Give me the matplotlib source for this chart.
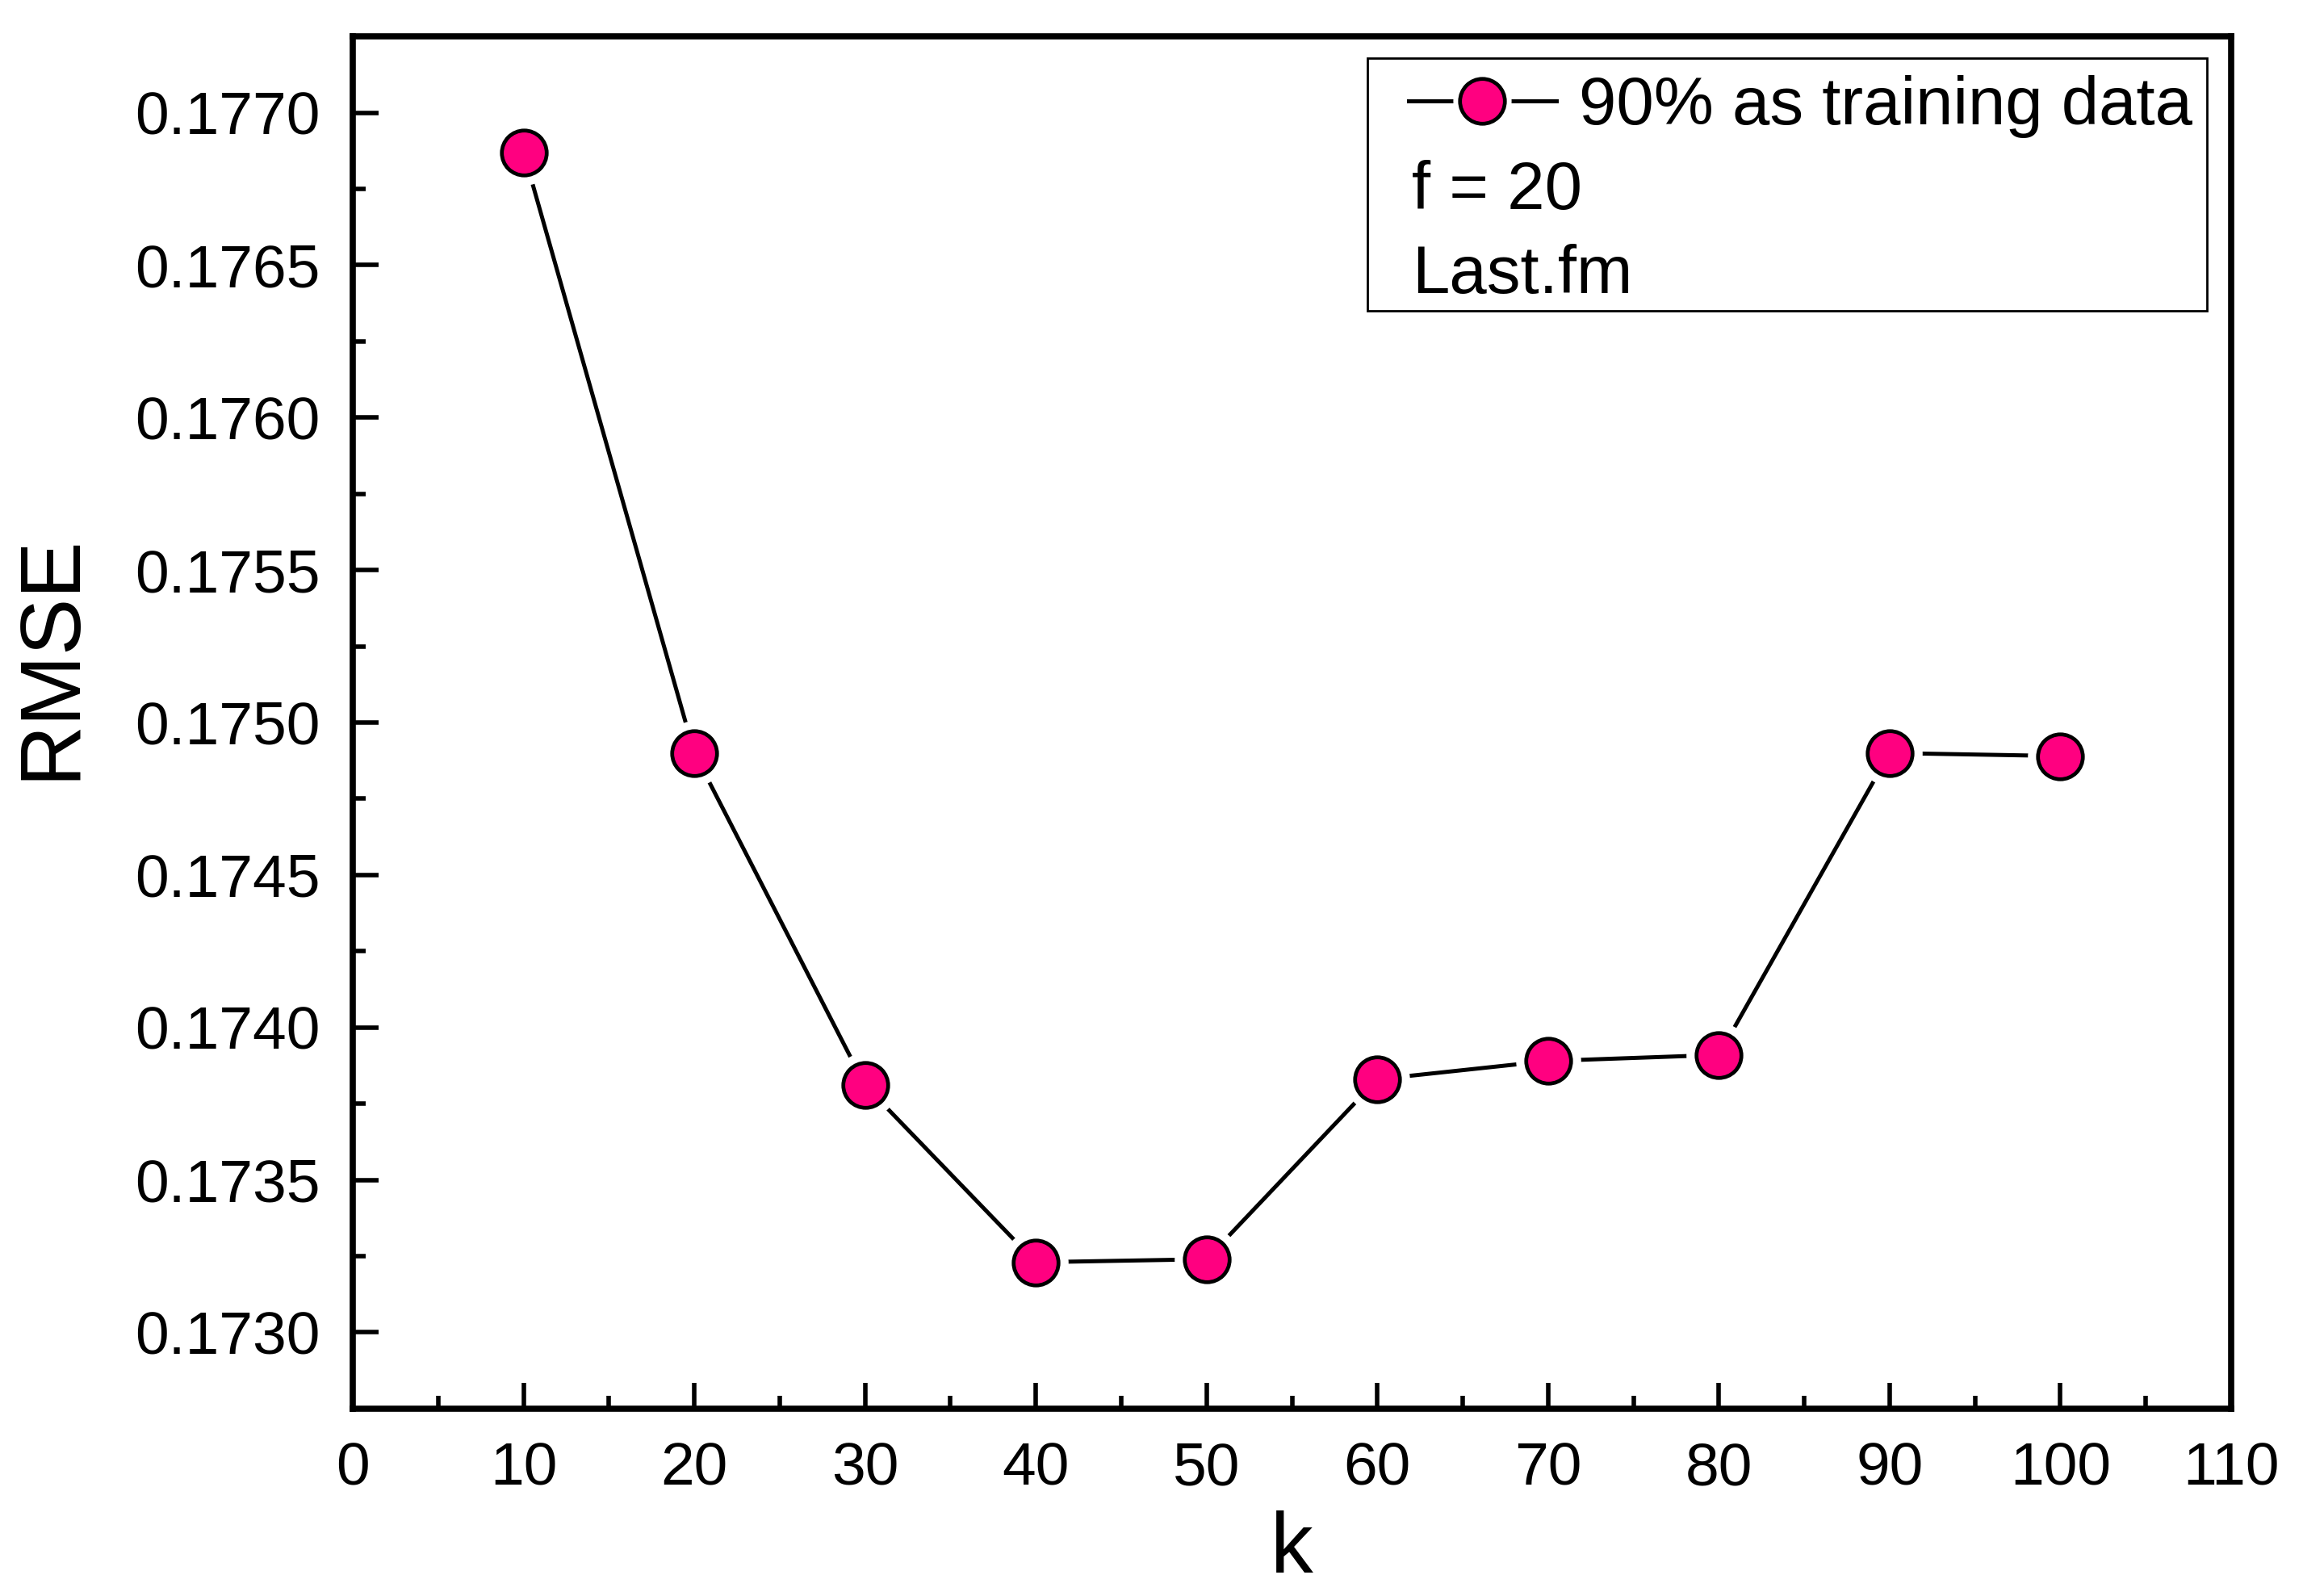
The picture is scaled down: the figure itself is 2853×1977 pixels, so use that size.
import matplotlib; matplotlib.use("Agg")
import matplotlib.pyplot as plt
from matplotlib.lines import Line2D
from matplotlib.patches import Rectangle
from matplotlib.legend_handler import HandlerTuple
from matplotlib.ticker import MultipleLocator, FormatStrFormatter

plt.rcParams['font.family'] = ['Liberation Sans', 'DejaVu Sans']

# values
k_vals = [10, 20, 30, 40, 50, 60, 70, 80, 90, 100]
rmse = [0.17687, 0.17490, 0.17381, 0.17323, 0.17324,
        0.17383, 0.17389, 0.17391, 0.17490, 0.17489]
series_label = "90% as training data"
note_lines = ["f = 20", "Last.fm"]

PINK = "#FF0080"

fig = plt.figure(figsize=(28.53, 19.77), dpi=100)
ax = fig.add_axes([0.1532, 0.1174, 0.8156, 0.8598])

# line, then white ring to make gaps, then the markers (Origin look)
ax.plot(k_vals, rmse, color="black", lw=3.6, zorder=2)
ax.plot(k_vals, rmse, ls="none", marker="o", ms=58, mfc="white", mec="none", zorder=3)
ax.plot(k_vals, rmse, ls="none", marker="o", ms=40, mfc=PINK, mec="black", mew=3.4, zorder=4)

ax.set_xlim(0, 110)
ax.set_ylim(0.17275, 0.17725)
ax.xaxis.set_major_locator(MultipleLocator(10))
ax.xaxis.set_minor_locator(MultipleLocator(5))
ax.yaxis.set_major_locator(MultipleLocator(0.0005))
ax.yaxis.set_minor_locator(MultipleLocator(0.00025))
ax.yaxis.set_major_formatter(FormatStrFormatter("%.4f"))

for s in ax.spines.values():
    s.set_linewidth(5.5)
ax.tick_params(which="both", direction="in", top=False, right=False, width=4, labelsize=54, pad=29)
ax.tick_params(which="major", length=23)
ax.tick_params(which="minor", length=11.5)

ax.set_xlabel("k", fontsize=76, labelpad=12)
ax.set_ylabel("RMSE", fontsize=76)
ax.yaxis.set_label_coords(-0.139, 0.548)

# legend box with extra text lines
ax.add_patch(Rectangle((0.540, 0.800), 0.447, 0.184, transform=ax.transAxes,
                       fill=False, ec="black", lw=2, zorder=5))
h_line = Line2D([], [], color="black", lw=3.6)
h_ring = Line2D([], [], ls="none", marker="o", ms=52, mfc="white", mec="none")
h_mark = Line2D([], [], ls="none", marker="o", ms=40, mfc=PINK, mec="black", mew=3.4)
ax.legend([(h_line, h_ring, h_mark)], [series_label],
          handler_map={tuple: HandlerTuple(ndivide=1, pad=0)},
          loc="center left", bbox_to_anchor=(0.562, 0.949), frameon=False,
          fontsize=60, handlelength=2.2, handletextpad=0.33, borderpad=0, borderaxespad=0)
for i, t in enumerate(note_lines):
    ax.text(0.564, 0.887 - i * 0.061, t, transform=ax.transAxes, fontsize=60,
            ha="left", va="center", zorder=6)

fig.savefig("out.png", dpi=100)
